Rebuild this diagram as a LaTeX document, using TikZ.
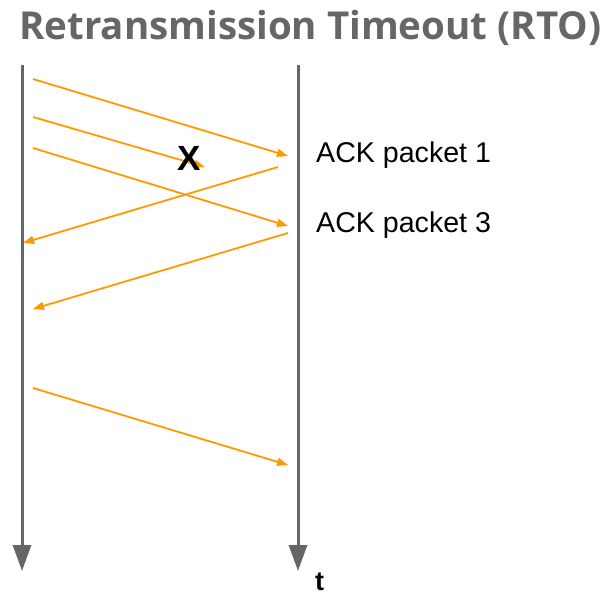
\documentclass[tikz,border=0pt]{standalone}
\usepackage{fontspec}
\setmainfont{Liberation Sans}
\newfontfamily\titlefont{Open Sans}
\usetikzlibrary{arrows.meta}
\definecolor{lifegray}{HTML}{666666}
\definecolor{msgorange}{HTML}{FF9900}
\tikzset{
  lifeline/.style={draw=lifegray, line width=3pt, -{Triangle[length=26pt,width=18pt]}},
  msg/.style={draw=msgorange, line width=1.8pt, -{Triangle[length=11pt,width=8pt]}},
  label/.style={inner sep=0pt, anchor=base west, font=\fontsize{28.6}{30}\selectfont},
}
\begin{document}
\begin{tikzpicture}[x=1pt,y=-1pt]
\useasboundingbox (0,0) rectangle (608,596);
\node[inner sep=0pt, anchor=base west, text=lifegray, font=\titlefont\bfseries\fontsize{38.5}{40}\selectfont] (title) at (19,39.3) {Retransmission Timeout (RTO)};
% lifelines
\coordinate (Ltop) at (22,65);
\coordinate (Lbot) at (22,571);
\coordinate (Rtop) at (298,65);
\coordinate (Rbot) at (298,571);
\draw[lifeline] (Ltop) -- (Lbot);
\draw[lifeline] (Rtop) -- (Rbot);
% message endpoints
\coordinate (s1) at (33,79);  \coordinate (e1) at (288,156);
\coordinate (s2) at (33,117); \coordinate (e2) at (205,167);
\coordinate (s3) at (33,148); \coordinate (e3) at (288,226);
\coordinate (s4) at (278,167); \coordinate (e4) at (23,243);
\coordinate (s5) at (288,233); \coordinate (e5) at (33,309);
\coordinate (s6) at (33,388); \coordinate (e6) at (288,465);
\draw[msg] (s1) -- (e1);
\draw[msg] (s2) -- (e2);
\draw[msg] (s3) -- (e3);
\draw[msg] (s4) -- (e4);
\draw[msg] (s5) -- (e5);
\draw[msg] (s6) -- (e6);
\node[inner sep=0pt, anchor=base, font=\bfseries\fontsize{35}{36}\selectfont] (lost) at (189.5,171) {X};
\node[label] (ack1) at (316,163) {ACK packet 1};
\node[label] (ack3) at (316,233) {ACK packet 3};
\node[inner sep=0pt, text depth=0pt, anchor=base west, font=\bfseries\fontsize{27}{30}\selectfont] (tlabel) at (315,590) {t};
\end{tikzpicture}
\end{document}
